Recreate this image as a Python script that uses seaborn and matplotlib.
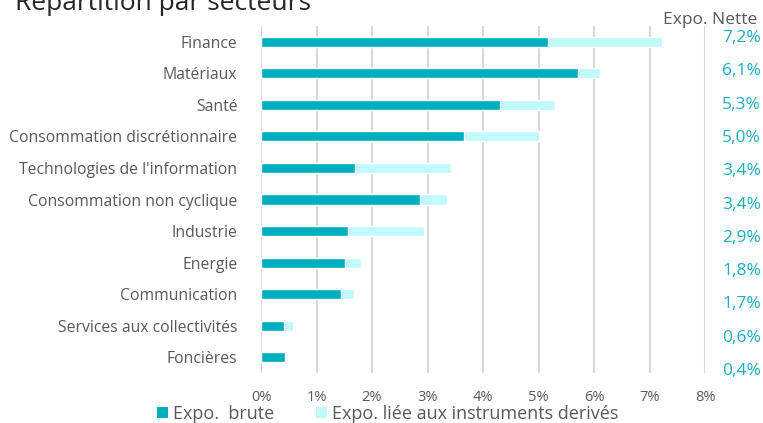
import matplotlib
matplotlib.use("Agg")
import matplotlib.pyplot as plt
import seaborn as sns
import pandas as pd
from matplotlib.patches import Patch

categories = ["Finance", "Matériaux", "Santé", "Consommation discrétionnaire",
              "Technologies de l'information", "Consommation non cyclique",
              "Industrie", "Energie", "Communication",
              "Services aux collectivités", "Foncières"]
expo_brute = [5.17, 5.71, 4.30, 3.65, 1.70, 2.86, 1.57, 1.51, 1.44, 0.41, 0.44]
expo_derives = [2.05, 0.40, 1.00, 1.35, 1.72, 0.49, 1.37, 0.29, 0.24, 0.17, 0.00]
expo_nette = ["7,2%", "6,1%", "5,3%", "5,0%", "3,4%", "3,4%", "2,9%",
              "1,8%", "1,7%", "0,6%", "0,4%"]
x_ticks = [0, 1, 2, 3, 4, 5, 6, 7, 8]
x_ticklabels = ["0%", "1%", "2%", "3%", "4%", "5%", "6%", "7%", "8%"]

TEAL = "#00AFBF"
LIGHT = "#C0FAFC"
GRAY = "#595959"
NET = "#1AAFBF"

sns.set_theme(style="white")
plt.rcParams["font.family"] = ["Open Sans", "DejaVu Sans"]

df = pd.DataFrame({"cat": categories, "brute": expo_brute,
                   "total": [b + d for b, d in zip(expo_brute, expo_derives)]})

W, H = 763, 423
fig = plt.figure(figsize=(W / 100, H / 100), dpi=100)
ax = fig.add_axes([261 / W, 1 - 373 / H, (705 - 261) / W, (373 - 26) / H])

sns.barplot(data=df, y="cat", x="total", color=LIGHT, width=0.32,
            orient="h", ax=ax, saturation=1, zorder=3)
sns.barplot(data=df, y="cat", x="brute", color=TEAL, width=0.32,
            orient="h", ax=ax, saturation=1, zorder=4)

ax.set_xlim(0, 8)
ax.set_ylim(len(categories) - 0.5, -0.5)
ax.set_xticks(x_ticks)
ax.set_xticklabels(x_ticklabels, color=GRAY, fontsize=10.5)
ax.set_yticks(range(len(categories)))
ax.set_yticklabels(categories, color=GRAY, fontsize=11.3)
ax.tick_params(axis="y", length=0, pad=17)
ax.tick_params(axis="x", length=0, pad=12)
ax.set_xlabel("")
ax.set_ylabel("")
for s in ax.spines.values():
    s.set_visible(False)
ax.grid(axis="x", color="#D9D9D9", linewidth=1.5, zorder=0)
ax.set_axisbelow(True)

# Title (partly cut off at top, as in the source)
fig.text(15 / W, 1 - 3 / H, "Répartition par secteurs", fontsize=19,
         color="#262626", ha="left", va="center")

# Net exposure column
fig.text(757 / W, 1 - 20 / H, "Expo. Nette", fontsize=12.5, color=GRAY,
         ha="right", va="center")
n = len(expo_nette)
for i, lab in enumerate(expo_nette):
    ypix = 38 + i * (371 - 38) / (n - 1)
    fig.text(761 / W, 1 - ypix / H, lab, fontsize=12.5, color=NET,
             ha="right", va="center")

handles = [Patch(facecolor=TEAL, edgecolor="none"),
           Patch(facecolor=LIGHT, edgecolor="none")]
fig.legend(handles, ["Expo.  brute", "Expo. liée aux instruments derivés"],
           loc="center left", bbox_to_anchor=(157 / W, 1 - 414 / H), ncol=2,
           frameon=False, fontsize=13, handlelength=0.6, handleheight=0.6,
           handletextpad=0.3, columnspacing=2.3, labelcolor=GRAY,
           borderpad=0, borderaxespad=0)

fig.savefig("out.png", dpi=100)
